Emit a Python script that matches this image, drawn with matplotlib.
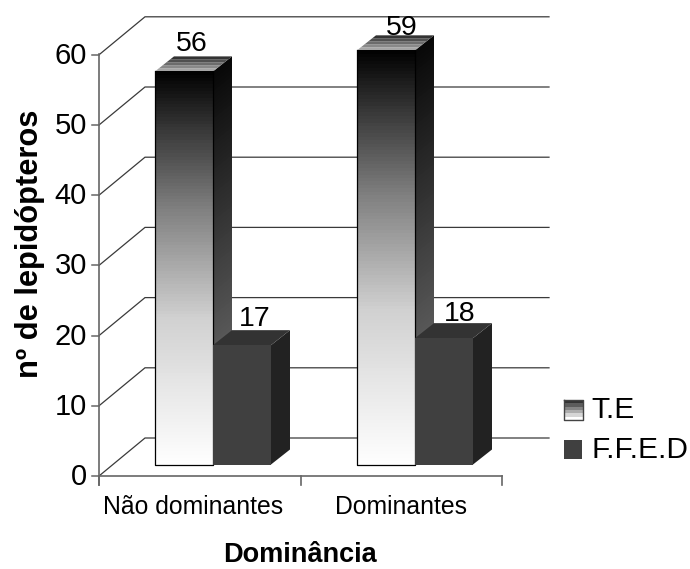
import matplotlib
matplotlib.use("Agg")
import matplotlib.pyplot as plt
import numpy as np
from matplotlib.patches import Polygon

plt.rcParams['font.family'] = ['Liberation Sans', 'DejaVu Sans']

categories = ["Não dominantes", "Dominantes"]
te = [56, 59]
ffed = [17, 18]
yticks = [0, 10, 20, 30, 40, 50, 60]

# pixel layout of the 3d box
x0, x1 = 99, 502
y0 = 476
unit = 7.02
wall_dx, wall_dy = 46, -38
bar_base = 464.5
bar_w = 58
bar_dx, bar_dy = 19, -15
bar_left = [155, 357]
grid_end = 549
te_gap = [5, 0]
ffed_gap = [4, 2]
te_shift = [8, 16]
ffed_shift = [13, 16]

# gray ramp of the front face, top to bottom
ramp_pos = [0, 0.15, 0.35, 0.63, 1]
ramp_gray = [0, 0.22, 0.5, 0.82, 1]


def vy(v, base=y0):
    return base - v * unit


def poly(ax, pts, fc, ec='none', lw=0, z=3):
    ax.add_patch(Polygon(pts, closed=True, fc=fc, ec=ec, lw=lw, zorder=z))


def bands(ax, pts_top, pts_bot, grays, z=3):
    # pts_top / pts_bot are (left, right) points of a quad, filled in gray steps
    lt, rt = np.array(pts_top[0], float), np.array(pts_top[1], float)
    lb, rb = np.array(pts_bot[0], float), np.array(pts_bot[1], float)
    n = len(grays)
    for i, g in enumerate(grays):
        a, b = i / n, min((i + 1) / n + 0.01, 1)
        poly(ax, [lt + (lb - lt) * a, rt + (rb - rt) * a,
                  rt + (rb - rt) * b, lt + (lb - lt) * b], str(round(float(g), 3)), z=z)


fig = plt.figure(figsize=(6.9, 5.69), dpi=100)
ax = fig.add_axes([0, 0, 1, 1])
ax.set_xlim(0, 690)
ax.set_ylim(569, 0)
ax.axis('off')

line = '#3a3a3a'
axis_c = '#666666'
for v in yticks:
    y = vy(v)
    ax.plot([x0, x0 + wall_dx, grid_end], [y, y + wall_dy, y + wall_dy],
            color=line, lw=0.9, zorder=1, solid_joinstyle='miter')
    ax.plot([x0 - 7, x0], [y, y], color=axis_c, lw=1.1, zorder=1)
    ax.text(x0 - 12, y + 1, str(v), ha='right', va='center', fontsize=21, color='black')

ax.plot([x0, x0], [vy(60) - 1, y0 + 9], color=axis_c, lw=1.2, zorder=1)
ax.plot([x0, x1], [y0, y0], color=axis_c, lw=1.2, zorder=1)
mid = (x0 + x1) / 2
for x in [x0, mid, x1]:
    ax.plot([x, x], [y0, y0 + 9], color=axis_c, lw=1.2, zorder=1)

front = np.interp((np.arange(120) + 0.5) / 120, ramp_pos, ramp_gray)
side = np.linspace(0.03, 0.48, 100)
lid = np.linspace(0.2, 0.65, 5)

for i, cat in enumerate(categories):
    l = bar_left[i]
    # tall gradient bar
    top = vy(te[i], bar_base)
    r = l + bar_w
    bands(ax, [(r, top), (r + bar_dx, top + bar_dy)],
          [(r, bar_base), (r + bar_dx, bar_base + bar_dy)], side, z=2)
    bands(ax, [(l + bar_dx, top + bar_dy), (r + bar_dx, top + bar_dy)],
          [(l, top), (r, top)], lid, z=2)
    bands(ax, [(l, top), (r, top)], [(l, bar_base), (r, bar_base)], front, z=3)
    ax.plot([l, l, r, r], [top, bar_base, bar_base, top], color='black', lw=0.9, zorder=4)
    ax.text(l + bar_w / 2 + te_shift[i], top + bar_dy - te_gap[i], str(te[i]), ha='center',
            va='baseline', fontsize=20.5, color='black', zorder=6)
    # dark bar next to it
    top2 = vy(ffed[i], bar_base)
    l2, r2 = r, r + bar_w
    poly(ax, [(r2, top2), (r2 + bar_dx, top2 + bar_dy), (r2 + bar_dx, bar_base + bar_dy),
              (r2, bar_base)], '#222222', z=5)
    poly(ax, [(l2, top2), (r2, top2), (r2 + bar_dx, top2 + bar_dy), (l2 + bar_dx, top2 + bar_dy)],
         '#333333', z=5)
    poly(ax, [(l2, top2), (r2, top2), (r2, bar_base), (l2, bar_base)], '#404040', z=5)
    ax.text(l2 + bar_w / 2 + ffed_shift[i], top2 + bar_dy - ffed_gap[i], str(ffed[i]), ha='center',
            va='baseline', fontsize=20.5, color='black', zorder=6)
    ax.text(x0 + (x1 - x0) * (i + 0.5) / 2 - 7 + 7 * i, 507, cat, ha='center', va='center',
            fontsize=17.8, color='black')

ax.text(30, 244, "nº de lepidópteros", rotation=90, ha='center', va='center',
        fontsize=22.2, fontweight='bold', color='black')
ax.text(300, 555, "Dominância", ha='center', va='center', fontsize=19.5, fontweight='bold',
        color='black')

# legend
bands(ax, [(564, 400), (583, 400)], [(564, 420), (583, 420)], np.linspace(0.2, 1.0, 6), z=3)
ax.plot([564, 583, 583, 564, 564], [400, 400, 420, 420, 400], color='#444444', lw=1, zorder=4)
poly(ax, [(564, 440), (582, 440), (582, 459), (564, 459)], '#404040')
ax.text(591, 410, "T.E", ha='left', va='center', fontsize=21.5, color='black')
ax.text(592, 450, "F.F.E.D", ha='left', va='center', fontsize=21.5, color='black')

fig.savefig("out.png", dpi=100)
